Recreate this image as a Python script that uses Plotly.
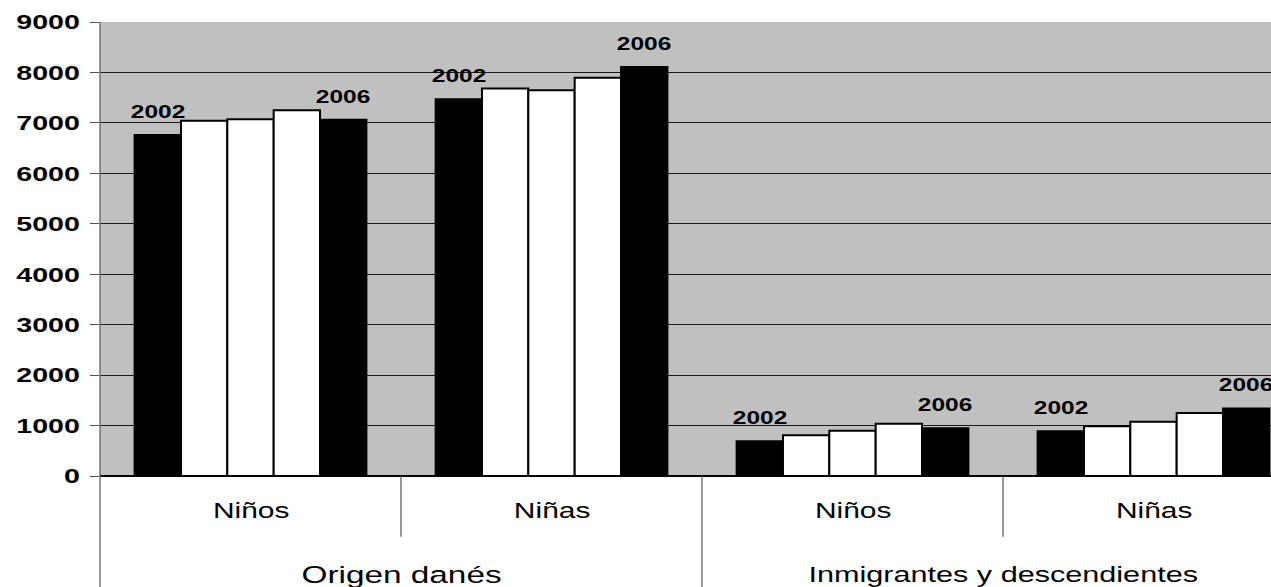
import plotly.graph_objects as go

# Data: pupils by origin and sex, yearly 2002-2006
years = ["2002", "2003", "2004", "2005", "2006"]
sexes = ["Niños", "Niñas", "Niños", "Niñas"]
origins = ["Origen danés", "Inmigrantes y descendientes"]

v2002 = [6760, 7470, 690, 885]
v2003 = [7040, 7680, 810, 985]
v2004 = [7070, 7645, 895, 1075]
v2005 = [7250, 7895, 1035, 1250]
v2006 = [7060, 8110, 945, 1340]
series = [v2002, v2003, v2004, v2005, v2006]
year_colors = ["#000000", "#ffffff", "#ffffff", "#ffffff", "#000000"]

y_ticks = list(range(0, 9001, 1000))

FONT = "Liberation Sans, Arial, sans-serif"
BAR_W = 0.154                      # width of one bar, in category units
n_years = len(years)
group_x = list(range(len(sexes)))  # one numeric slot per sex/origin group


def bar_pos(g, k):
    return g + (k - (n_years - 1) / 2) * BAR_W


fig = go.Figure()
for k, (yr, vals, col) in enumerate(zip(years, series, year_colors)):
    fig.add_trace(go.Bar(
        x=[bar_pos(g, k) for g in group_x],
        y=vals,
        width=BAR_W,
        name=yr,
        marker=dict(color=col, line=dict(color="#000000", width=2)),
        showlegend=False,
    ))

annotations = []
# year labels above the first and last bar of each group
for g in group_x:
    for k in (0, n_years - 1):
        annotations.append(dict(
            x=bar_pos(g, k), y=series[k][g], xref="x", yref="y",
            text=years[k], showarrow=False, yanchor="bottom", yshift=11,
            font=dict(family=FONT, size=18, color="#000000", weight="bold"),
        ))
# sex labels under each group
for g, s in zip(group_x, sexes):
    annotations.append(dict(
        x=g, y=-0.077, xref="x", yref="paper", text=s, showarrow=False,
        yanchor="middle", font=dict(family=FONT, size=22, color="#000000"),
    ))
# origin labels spanning two groups
origin_sizes = [24.5, 22.5]
for i, (o, fs) in enumerate(zip(origins, origin_sizes)):
    annotations.append(dict(
        x=2 * i + 0.5, y=-0.217, xref="x", yref="paper", text=o,
        showarrow=False, yanchor="middle",
        font=dict(family=FONT, size=fs, color="#000000"),
    ))

axis_col = "#555555"
shapes = [
    # left axis, running down through the category labels
    dict(type="line", xref="paper", yref="paper", x0=0, x1=0, y0=-0.25, y1=1,
         line=dict(color=axis_col, width=1.2)),
]
# separators between groups: short between sexes, long between origins
for b in (0.5, 1.5, 2.5):
    long_sep = abs(b - 1.5) < 1e-9
    shapes.append(dict(
        type="line", xref="x", yref="paper", x0=b, x1=b,
        y0=-0.25 if long_sep else -0.134, y1=0,
        line=dict(color=axis_col, width=1.2),
    ))

fig.update_layout(
    width=1271, height=587,
    margin=dict(l=100, r=0, t=22, b=111),
    paper_bgcolor="#ffffff",
    plot_bgcolor="#c0c0c0",
    barmode="overlay",
    annotations=annotations,
    shapes=shapes,
    font=dict(family=FONT, color="#000000"),
    xaxis=dict(range=[-0.5, -0.5 + 1171 / 301], showticklabels=False,
               showgrid=False, zeroline=False, ticks="", fixedrange=True),
    yaxis=dict(range=[0, 9000], tickvals=y_ticks,
               ticktext=[str(t) for t in y_ticks],
               ticks="outside", ticklen=9, tickcolor=axis_col, tickwidth=1.2,
               ticklabelstandoff=6,
               tickfont=dict(family=FONT, size=21, color="#000000", weight="bold"),
               showgrid=True, gridcolor="#1a1a1a", gridwidth=1,
               zeroline=True, zerolinecolor="#000000", zerolinewidth=1.5,
               showline=False, fixedrange=True),
)

# the chart's lettering is set wide; stretch every text run horizontally
WIDEN_JS = """
(function(){
  var gd = document.getElementById('{plot_id}');
  function widen(){
    gd.querySelectorAll('text').forEach(function(t){
      if (t.getAttribute('lengthAdjust')) return;
      var n = t.getComputedTextLength();
      if (!n) return;
      t.setAttribute('textLength', (n * 1.36).toFixed(2));
      t.setAttribute('lengthAdjust', 'spacingAndGlyphs');
    });
  }
  widen();
  setTimeout(widen, 30);
  setTimeout(widen, 300);
  if (gd.on) gd.on('plotly_afterplot', widen);
})();
"""

fig.write_html("out.html", post_script=WIDEN_JS, config={"displayModeBar": False})
